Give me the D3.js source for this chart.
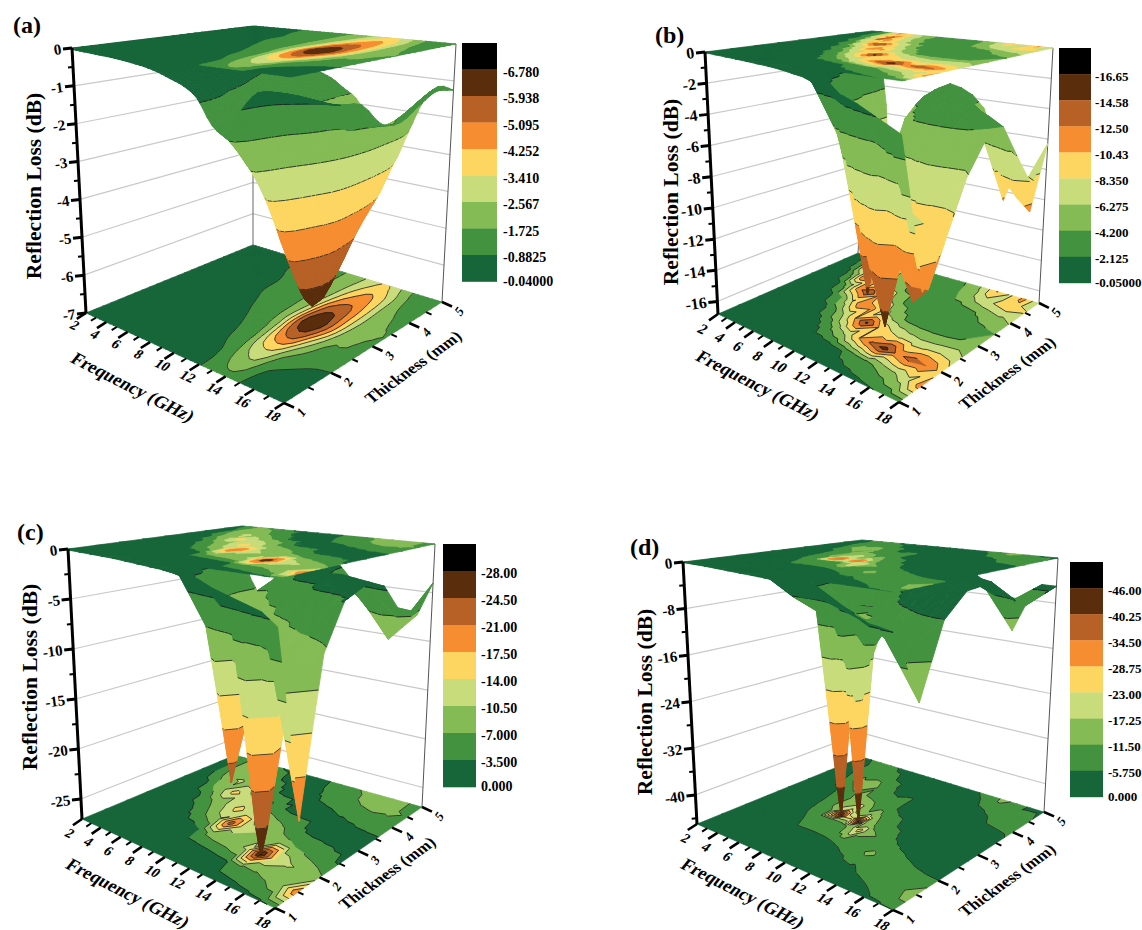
<!DOCTYPE html>
<html><head><meta charset="utf-8">
<script src="https://cdn.jsdelivr.net/npm/d3@7/dist/d3.min.js"></script>
<style>html,body{margin:0;padding:0;background:#fff}svg{display:block}text{font-family:"Liberation Serif",serif;font-weight:bold;fill:#000}</style>
</head><body><svg id="c" width="1142" height="930"></svg>
<script>
const bandColors=["#000000","#5a2e0d","#b86126","#f68e31","#fdd662","#c8dc7c","#84bb55","#43923f","#17663a"];
const thicknessValues=[1,1.5,2,2.5,3,3.5,4,4.5,5];
const thicknessValuesD=[1,1.5,2,2.5,2.75,3,3.5,4,4.5,5];
const frequencyValues=[2,3,4,5,6,7,8,9,10,11,12,13,14,15,16,17,18];
const frequencyValuesD=[2,3,4,5,6,7,8,8.5,9,9.5,10,10.5,11,12,13,14,15,16,17,18];
const frequencyTicks=[2,3,4,5,6,7,8,9,10,11,12,13,14,15,16,17,18];
const thicknessTicks=[1,1.5,2,2.5,3,3.5,4,4.5,5];

const levelsA=[-6.78,-5.938,-5.095,-4.252,-3.41,-2.567,-1.725,-0.8825];
const legendA=["-0.04000","-0.8825","-1.725","-2.567","-3.410","-4.252","-5.095","-5.938","-6.780"];
const zTicksA=[0,-1,-2,-3,-4,-5,-6,-7];
const rlA=[
[-.04,-.06,-.08,-.1,-.13,-.17,-.22,-.3,-.42,-.55,-.8,-1.35,-1.5,-.88,-.45,-.42,-.5],
[-.05,-.07,-.1,-.13,-.17,-.22,-.3,-.4,-.52,-.7,-1.0,-2.0,-2.4,-1.1,-.7,-.6,-.7],
[-.05,-.08,-.12,-.16,-.21,-.29,-.38,-.5,-.68,-.95,-1.5,-3.2,-3.5,-1.9,-1.25,-.95,-.88],
[-.06,-.09,-.13,-.18,-.25,-.35,-.48,-.65,-.88,-1.2,-2.1,-4.7,-5.3,-3.2,-1.7,-1.6,-1.0],
[-.06,-.1,-.14,-.2,-.3,-.42,-.62,-.88,-1.15,-1.5,-2.9,-6.0,-6.4,-4.5,-2.2,-1.8,-1.6],
[-.07,-.1,-.15,-.23,-.35,-.55,-.85,-1.1,-1.35,-1.7,-2.8,-5.5,-5.9,-4.3,-2.4,-1.85,-1.7],
[-.07,-.11,-.17,-.27,-.43,-.7,-.92,-1.2,-1.45,-1.8,-2.6,-4.4,-5,-3.9,-2.2,-1.7,-1.4],
[-.07,-.12,-.2,-.35,-.5,-.88,-1.05,-1.3,-1.55,-1.85,-2.5,-3.6,-4.3,-3.4,-2.0,-1.4,-1.15],
[-.08,-.14,-.25,-.5,-.75,-1,-1.2,-1.35,-1.6,-1.85,-2.4,-3.1,-3.5,-2.6,-1.65,-1.2,-1.25]];

const levelsB=[-16.65,-14.58,-12.5,-10.43,-8.35,-6.275,-4.2,-2.125];
const legendB=["-0.05000","-2.125","-4.200","-6.275","-8.350","-10.43","-12.50","-14.58","-16.65"];
const zTicksB=[0,-2,-4,-6,-8,-10,-12,-14,-16];
const rlB=[
[-.05,-.08,-.12,-.16,-.2,-.25,-.3,-.38,-.5,-.62,-.9,-1.1,-1.3,-1.6,-2,-2.4,-2.8],
[-.06,-.1,-.15,-.2,-.27,-.35,-.45,-.6,-.8,-1.2,-1.9,-2.8,-3.6,-4.5,-5.5,-7.5,-11.7],
[-.07,-.12,-.18,-.25,-.4,-.7,-1.3,-2.7,-5,-7,-10.5,-13,-15.5,-11.8,-13.5,-12.5,-9.6],
[-.08,-.15,-.25,-.4,-.7,-1.6,-3.5,-6.5,-10.5,-15,-10.5,-8.5,-7.5,-7,-7.2,-7.5,-6.5],
[-.1,-.2,-.35,-.7,-1.9,-4.2,-8,-12.5,-11,-7,-4.8,-3.9,-3.6,-3.6,-3.8,-4.3,-4.6],
[-.12,-.25,-.6,-1.9,-5,-11.5,-14.5,-10.5,-6.5,-4.3,-3.5,-3.2,-3.0,-3.1,-3.3,-3.7,-4.2],
[-.15,-.5,-1.5,-5,-12.8,-11.5,-8,-5.2,-4,-3.4,-3.1,-3.0,-3.2,-3.8,-4.5,-5.5,-6.5],
[-.2,-.9,-3.6,-10.5,-12.5,-8.3,-5.5,-4,-3.4,-3.1,-3.3,-4.2,-5.6,-7.5,-8.6,-9.6,-8.6],
[-.3,-1.3,-5.4,-12,-10,-6.5,-4.6,-3.6,-3.2,-3.4,-3.8,-4.6,-6.8,-10.6,-8,-11,-6.3]];

const levelsC=[-28,-24.5,-21,-17.5,-14,-10.5,-7,-3.5];
const legendC=["0.000","-3.500","-7.000","-10.50","-14.00","-17.50","-21.00","-24.50","-28.00"];
const zTicksC=[0,-5,-10,-15,-20,-25];
const rlC=[
[-.1,-.15,-.2,-.25,-.3,-.4,-.5,-.6,-.7,-.9,-1.1,-1.4,-1.8,-2.2,-2.6,-3.0,-4],
[-.1,-.2,-.3,-.4,-.5,-.65,-.85,-1.1,-1.5,-2,-2.6,-3.1,-6,-6.5,-7.5,-10,-21],
[-.15,-.25,-.4,-.6,-.8,-1.1,-1.6,-3.5,-8,-9,-9.5,-11,-28.5,-14,-11,-9.5,-7.5],
[-.2,-.35,-.6,-1,-2.2,-4.5,-7.5,-10,-23,-12,-10.5,-10,-8.5,-7,-5.8,-4.6,-3.1],
[-.25,-.5,-.9,-2.2,-5.5,-8,-11,-15.5,-11.5,-9.5,-7.8,-6.5,-3.8,-3,-2.8,-2.6,-2.4],
[-.3,-.8,-2.5,-7,-10,-15.5,-12,-10.5,-8,-4,-2.8,-2.6,-2.5,-2.4,-2.6,-2.8,-3],
[-.5,-3,-6.5,-10,-11,-9,-7,-4,-2.8,-2.6,-2.8,-3.2,-3.6,-4,-4.6,-5.5,-6],
[-1,-3.5,-8,-10,-7.5,-5,-3.6,-2.8,-2.6,-2.8,-3.8,-5,-6,-7.6,-8.5,-7.8,-6.5],
[-2.6,-6,-8,-6,-4.5,-3.4,-3,-2.8,-3,-3.4,-4.8,-6.4,-7.5,-10.5,-9,-7.5,-4]];

const levelsD=[-46,-40.25,-34.5,-28.75,-23,-17.25,-11.5,-5.75];
const legendD=["0.000","-5.750","-11.50","-17.25","-23.00","-28.75","-34.50","-40.25","-46.00"];
const zTicksD=[0,-8,-16,-24,-32,-40];
const rlD=[
[-.1,-.15,-.2,-.3,-.4,-.5,-.6,-.65,-.7,-.8,-.9,-1,-1.2,-1.6,-2.4,-3,-3.8,-5,-5.3,-5.8],
[-.1,-.2,-.3,-.4,-.5,-.8,-1,-1.1,-1.2,-1.4,-1.6,-1.9,-2.2,-3.5,-4.8,-6.2,-7,-8,-10,-17],
[-.15,-.3,-.5,-.8,-2.5,-5.8,-5.7,-5.7,-5.8,-5.9,-6.2,-6.6,-7.2,-9,-13,-9,-7.5,-6.5,-6,-5.8],
[-.2,-.5,-1.2,-3,-6,-9,-10,-10,-10.5,-12,-18,-26,-14,-11,-6.5,-5,-4,-3.2,-2.6,-2.2],
[-.25,-.6,-1.4,-3.5,-7,-11,-46.5,-26,-24,-46.5,-18,-13,-10.5,-8,-5,-4,-3,-2.6,-2.3,-2],
[-.3,-.7,-1.6,-4,-8,-14,-24,-16,-13,-19,-14,-11,-9,-5.5,-4,-3,-2.5,-2.3,-2,-1.9],
[-.4,-1.2,-3.5,-6,-10,-13,-12,-11,-9,-7,-6.5,-5.2,-4,-3,-2.5,-2.2,-2,-2,-2.5,-4.5],
[-.6,-2.5,-6,-13,-17,-11,-6.5,-5.6,-5,-5.8,-6,-4.5,-3.5,-2.5,-2.2,-2.2,-4,-5.7,-6.3,-7],
[-1.2,-4,-8,-10,-7.5,-5.8,-4.6,-4.2,-3.8,-3.4,-3.2,-3,-2.8,-2.5,-3.5,-5.5,-6.5,-7.5,-8,-6],
[-2,-5.7,-7.5,-7,-5,-4.4,-4,-3.8,-3.6,-3.4,-3.2,-3.2,-3.2,-4.4,-5.9,-7.5,-14,-8.5,-5,-5]];

const panels=[
 {name:"(a)",nameAt:[13,33],freqs:frequencyValues,thick:thicknessValues,grid:rlA,smooth:3,levels:levelsA,legend:legendA,zTicks:zTicksA,zMin:-7,
  ceil:[[72,48],[291,77],[456,44],[253,26]],floor:[[86,313],[284,403],[442,302],[253,245]],
  leg:[462,43,35,26.5,6,14],yTitle:[33,186],fTitle:[133,387],tTitle:[413,367],fOff:[-11,12],tOff:[17,9],tick:14},
 {name:"(b)",nameAt:[655,43],freqs:frequencyValues,thick:thicknessValues,grid:rlB,smooth:1,levels:levelsB,legend:legendB,zTicks:zTicksB,zMin:-16.8,
  ceil:[[705,52],[902,81],[1053,48],[872,31]],floor:[[718,314],[899,402],[1039,303],[858,253]],
  leg:[1059,48,32,26.1,4,13],yTitle:[670,192],fTitle:[758,385],tTitle:[1007,373],fOff:[-15,15],tOff:[17,9],tick:15},
 {name:"(c)",nameAt:[17,540],freqs:frequencyValues,thick:thicknessValues,grid:rlC,smooth:1,levels:levelsC,legend:legendC,zTicks:zTicksC,zMin:-27,
  ceil:[[68,549],[278,578],[435,544],[242,526]],floor:[[82,819],[275,908],[422,807],[235,755]],
  leg:[443,544,33,27,5,14],yTitle:[29,677],fTitle:[128,893],tTitle:[387,873],fOff:[-12,14],tOff:[17,9],tick:14},
 {name:"(d)",nameAt:[630,555],freqs:frequencyValuesD,thick:thicknessValuesD,grid:rlD,smooth:1,levels:levelsD,legend:legendD,zTicks:zTicksD,zMin:-45,
  ceil:[[683,562],[895,592],[1058,558],[862,540]],floor:[[697,824],[893,910],[1044,812],[862,757]],
  leg:[1070,562,33,26.1,5,13],yTitle:[644,702],fTitle:[743,893],tTitle:[1007,880],fOff:[-11,14],tOff:[17,9],tick:14}
];

function quad(c){
  const [[x0,y0],[x1,y1],[x2,y2],[x3,y3]]=c;
  const dx1=x1-x2,dx2=x3-x2,dx3=x0-x1+x2-x3,dy1=y1-y2,dy2=y3-y2,dy3=y0-y1+y2-y3;
  const den=dx1*dy2-dx2*dy1,g=(dx3*dy2-dx2*dy3)/den,h=(dx1*dy3-dx3*dy1)/den;
  const a=x1-x0+g*x1,b=x3-x0+h*x3,d=y1-y0+g*y1,e=y3-y0+h*y3;
  return (u,v)=>{const w=g*u+h*v+1;return [(a*u+b*v+x0)/w,(d*u+e*v+y0)/w];};
}
function clip(poly,val,keepAbove){
  const out=[];
  for(let i=0;i<poly.length;i++){
    const p=poly[i],q=poly[(i+1)%poly.length];
    const pin=keepAbove?p[2]>=val:p[2]<=val,qin=keepAbove?q[2]>=val:q[2]<=val;
    if(pin)out.push(p);
    if(pin!==qin){const t=(val-p[2])/(q[2]-p[2]);out.push([p[0]+t*(q[0]-p[0]),p[1]+t*(q[1]-p[1]),val]);}
  }
  return out;
}
// drawing-only Catmull-Rom mesh refinement between the values
function cr(a,b,c,d,t){return .5*(2*b+(c-a)*t+(2*a-5*b+4*c-d)*t*t+(3*b-a-3*c+d)*t*t*t);}
function resample(arr,n){
  if(n===1)return arr.slice();
  const out=[];
  for(let i=0;i<arr.length-1;i++)for(let k=0;k<n;k++)
    out.push(cr(arr[Math.max(i-1,0)],arr[i],arr[i+1],arr[Math.min(i+2,arr.length-1)],k/n));
  out.push(arr[arr.length-1]);return out;
}
function refine(P){
  const n=P.smooth;
  const fr=n===1?P.freqs:d3.range(0,(P.freqs.length-1)*n+1).map(i=>P.freqs[0]+i*(P.freqs[1]-P.freqs[0])/n);
  const th=n===1?P.thick:d3.range(0,(P.thick.length-1)*n+1).map(i=>P.thick[0]+i*(P.thick[1]-P.thick[0])/n);
  const rows=P.grid.map(r=>resample(r,n));
  const cols=d3.range(fr.length).map(i=>resample(rows.map(r=>r[i]),n));
  return {fr,th,z:(i,j)=>cols[i][j]};
}
const svg=d3.select("#c");
panels.forEach(P=>{
  const g=svg.append("g");
  const fS=d3.scaleLinear().domain([2,18]).range([0,1]);
  const tS=d3.scaleLinear().domain([1,5]).range([0,1]);
  const zS=d3.scaleLinear().domain([0,P.zMin]).range([0,1]).clamp(true);
  const C=quad(P.ceil),F=quad(P.floor);
  const at=(f,t,z)=>{const a=C(fS(f),tS(t)),b=F(fS(f),tS(t)),h=zS(z);return [a[0]+(b[0]-a[0])*h,a[1]+(b[1]-a[1])*h];};
  const bounds=[-Infinity,...P.levels,Infinity];
  const line=d3.line();
  P.zTicks.forEach(z=>{
    g.append("path").attr("d",line([at(2,1,z),at(2,5,z),at(18,5,z)])).attr("fill","none").attr("stroke","#c9c9c9").attr("stroke-width",1.2);
  });
  g.append("path").attr("d",line([at(2,5,0),at(2,5,P.zMin)])).attr("stroke","#666").attr("stroke-width",1).attr("fill","none");
  g.append("path").attr("d",line([at(18,5,0),at(18,5,P.zMin)])).attr("stroke","#555").attr("stroke-width",1).attr("fill","none");
  const tris=[];
  const M=refine(P);
  const fr=M.fr,th=M.th;
  for(let i=0;i<fr.length-1;i++)for(let j=th.length-2;j>=0;j--){
    const pt=(a,b)=>[fr[a],th[b],M.z(a,b)];
    const A=pt(i,j),B=pt(i+1,j),Cc=pt(i+1,j+1),D=pt(i,j+1);
    tris.push([A,Cc,D],[A,B,Cc]);
  }
  const items=(proj,lines)=>{
    const out=[];
    tris.forEach(tr=>{
      for(let k=0;k<bounds.length-1;k++){
        let poly=tr;
        if(bounds[k]>-Infinity)poly=clip(poly,bounds[k],true);
        if(poly.length&&bounds[k+1]<Infinity)poly=clip(poly,bounds[k+1],false);
        if(poly.length>2)out.push({d:line(poly.map(proj))+"Z",fill:bandColors[k],sw:.9});
      }
      if(lines)P.levels.forEach(l=>{
        const pts=[];
        for(let e=0;e<3;e++){const p=tr[e],q=tr[(e+1)%3];
          if((p[2]-l)*(q[2]-l)<0){const t=(l-p[2])/(q[2]-p[2]);pts.push([p[0]+t*(q[0]-p[0]),p[1]+t*(q[1]-p[1]),l]);}}
        if(pts.length===2)out.push({d:line(pts.map(proj)),stroke:"#1a1a1a",sw:.8});
      });
    });
    return out;
  };
  const draw=(its)=>g.append("g").selectAll("path").data(its).join("path")
    .attr("d",d=>d.d).attr("fill",d=>d.fill||"none").attr("stroke",d=>d.stroke||d.fill).attr("stroke-width",d=>d.sw).attr("stroke-linejoin","round");
  const merged=(its)=>{
    const m=d3.rollups(its.filter(d=>d.fill),v=>v.map(d=>d.d).join(""),d=>d.fill).map(([fill,d])=>({d,fill,sw:.6}));
    const ls=its.filter(d=>d.stroke);
    return ls.length?[...m,{d:ls.map(d=>d.d).join(""),stroke:"#1a1a1a",sw:.8}]:m;
  };
  draw(merged(items(p=>at(p[0],p[1],P.zMin),true)));
  draw(items(p=>at(p[0],p[1],p[2]),true));
  draw(merged(items(p=>at(p[0],p[1],0),false)));
  g.append("path").attr("d",line([at(2,1,0),at(2,1,P.zMin)])).attr("stroke","#000").attr("stroke-width",3).attr("fill","none");
  const step=P.zTicks[0]-P.zTicks[1];
  d3.range(0,Math.floor(-P.zMin/(step/2))+1).forEach(n=>{
    const z=-n*step/2,p=at(2,1,z),maj=n%2===0;
    g.append("line").attr("x1",p[0]).attr("y1",p[1]).attr("x2",p[0]-(maj?9:5)).attr("y2",p[1]+(maj?1:.5)).attr("stroke","#000").attr("stroke-width",maj?3:2);
    if(maj)g.append("text").attr("transform",`translate(${p[0]-10},${p[1]+6}) rotate(-8)`).attr("text-anchor","end").attr("font-size",P.tick+1).text(z);
  });
  const fEnd=at(2,1,P.zMin),bEnd=at(18,1,P.zMin),rEnd=at(18,5,P.zMin);
  const un=(a,b)=>{const l=Math.hypot(b[0]-a[0],b[1]-a[1]);return [(b[0]-a[0])/l,(b[1]-a[1])/l];};
  const dF=un(rEnd,bEnd),dT=un(fEnd,bEnd);
  frequencyTicks.forEach(f=>{
    const p=at(f,1,P.zMin),maj=f%2===0,L=maj?11:6;
    g.append("line").attr("x1",p[0]).attr("y1",p[1]).attr("x2",p[0]+dF[0]*L).attr("y2",p[1]+dF[1]*L).attr("stroke","#000").attr("stroke-width",maj?2.6:2);
    if(maj)g.append("text").attr("transform",`translate(${p[0]+P.fOff[0]},${p[1]+P.fOff[1]}) rotate(25) skewX(-15)`).attr("text-anchor","middle").attr("dy",".35em").attr("font-size",P.tick).text(f);
  });
  thicknessTicks.forEach(t=>{
    const p=at(18,t,P.zMin),maj=Number.isInteger(t),L=maj?11:6;
    g.append("line").attr("x1",p[0]).attr("y1",p[1]).attr("x2",p[0]+dT[0]*L).attr("y2",p[1]+dT[1]*L).attr("stroke","#000").attr("stroke-width",maj?2.6:2);
    if(maj)g.append("text").attr("transform",`translate(${p[0]+P.tOff[0]},${p[1]+P.tOff[1]}) rotate(-55) skewX(-10)`).attr("text-anchor","middle").attr("dy",".35em").attr("font-size",P.tick-1).text(t);
  });
  g.append("text").attr("x",P.nameAt[0]).attr("y",P.nameAt[1]).attr("font-size",24).text(P.name);
  g.append("text").attr("transform",`translate(${P.yTitle[0]},${P.yTitle[1]}) rotate(-90)`).attr("text-anchor","middle").attr("dy",".35em").attr("font-size",21.5).text("Reflection Loss (dB)");
  g.append("text").attr("transform",`translate(${P.fTitle[0]},${P.fTitle[1]}) rotate(27) skewX(-12)`).attr("text-anchor","middle").attr("dy",".35em").attr("font-size",18).text("Frequency (GHz)");
  g.append("text").attr("transform",`translate(${P.tTitle[0]},${P.tTitle[1]}) rotate(-36) skewX(10)`).attr("text-anchor","middle").attr("dy",".35em").attr("font-size",16.5).text("Thickness (mm)");
  const [lx,ly,lw,lh,lo,lf]=P.leg;
  const yL=d3.scaleLinear().domain([0,9]).range([ly,ly+9*lh]);
  bandColors.forEach((c,i)=>g.append("rect").attr("x",lx).attr("y",yL(i)).attr("width",lw).attr("height",lh+.3).attr("fill",c));
  P.legend.forEach((s,i)=>g.append("text").attr("x",lx+lw+lo).attr("y",yL(9-i)).attr("dy",i===0?".3em":".5em").attr("font-size",lf).text(s));
});
</script></body></html>
